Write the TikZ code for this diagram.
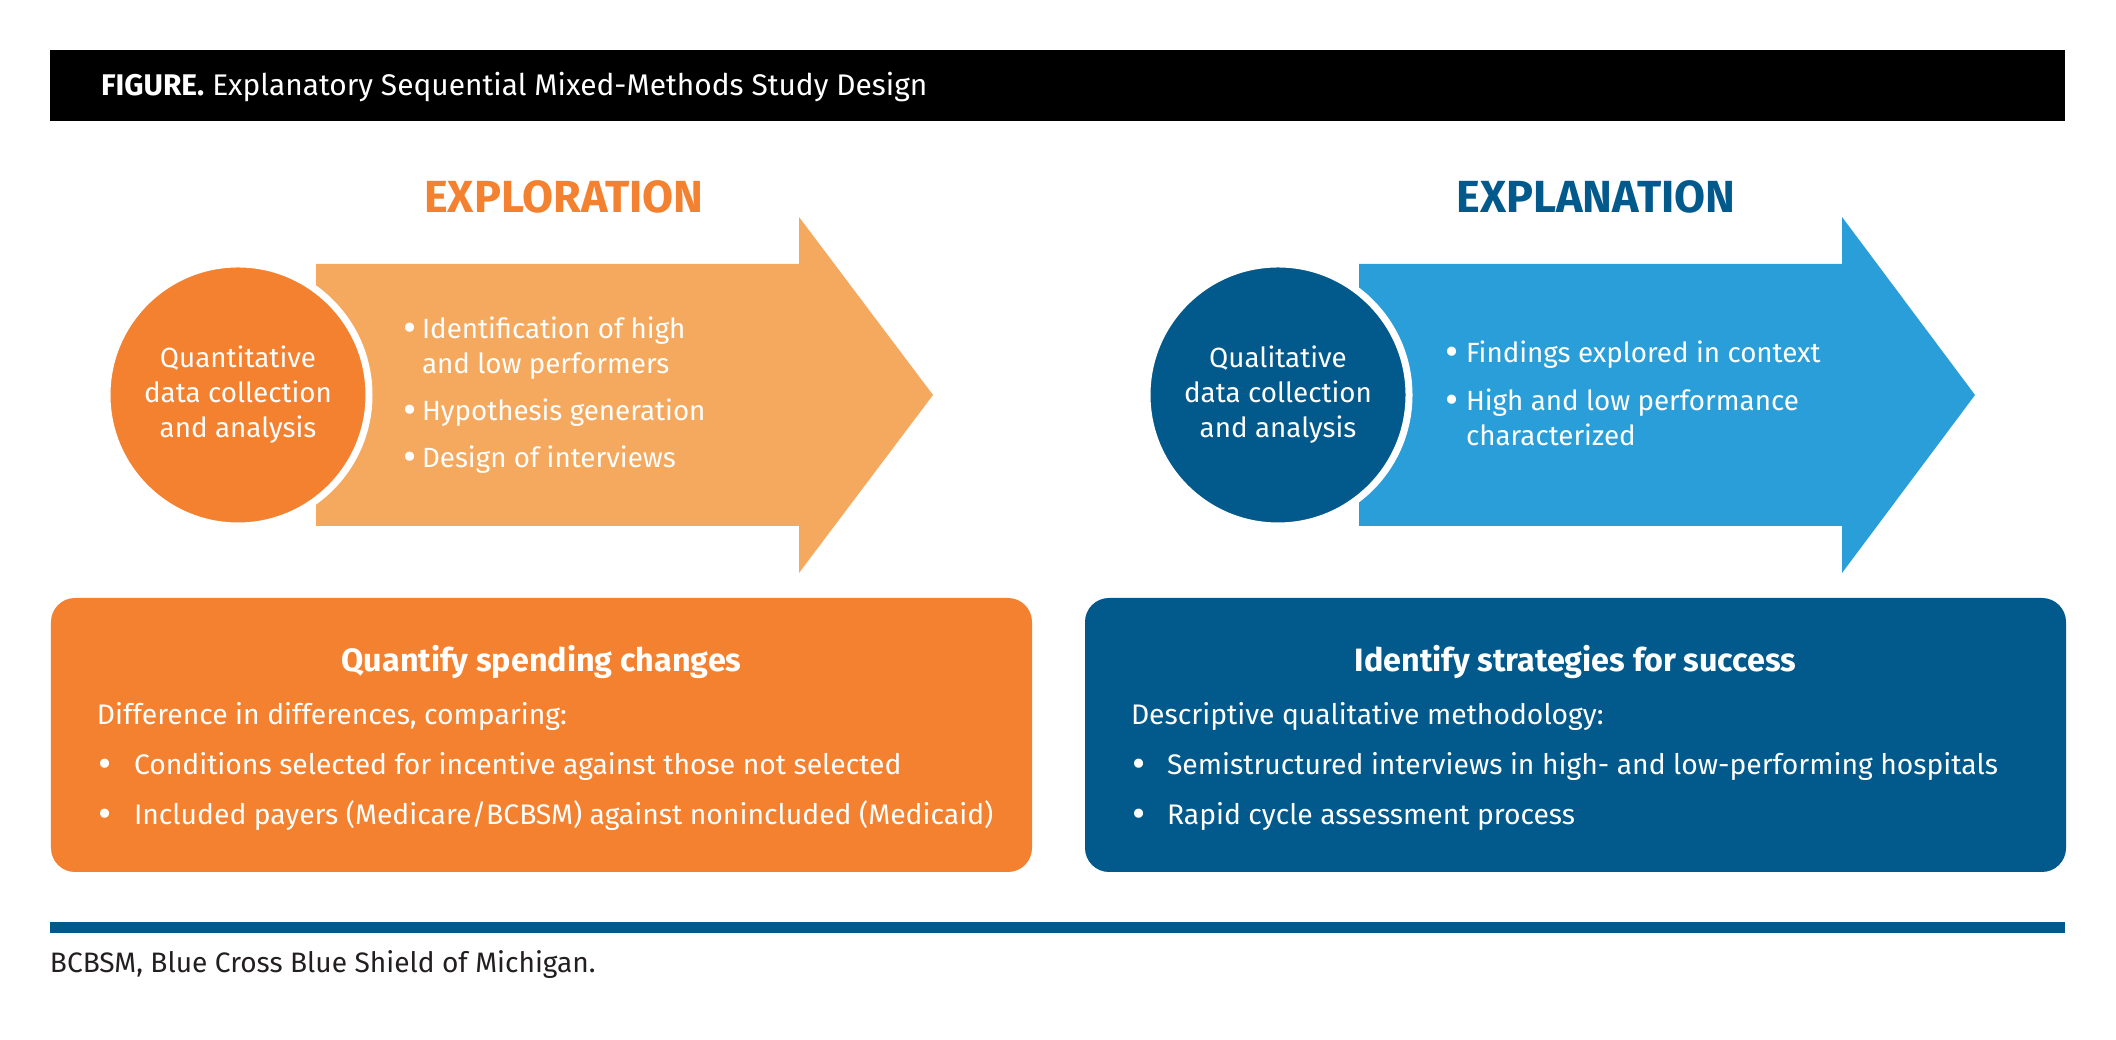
\documentclass[tikz,border=0pt]{standalone}
\usepackage{fontspec}
\setmainfont{Fira Sans}
\usepackage{tikz}
\usetikzlibrary{positioning,calc}
\definecolor{orangedark}{HTML}{F3812F}
\definecolor{orangelight}{HTML}{F4A95F}
\definecolor{bluedark}{HTML}{01598C}
\definecolor{bluelight}{HTML}{2A9ED9}
\definecolor{ink}{HTML}{231F20}
\tikzset{
  every node/.style={inner sep=0pt,outer sep=0pt},
  bar/.style={minimum width=201.5mm,inner sep=0pt},
  phase/.style={anchor=base,font=\fontsize{12.8}{14}\selectfont\bfseries},
  stage/.style={circle,minimum size=26.2mm,draw=white,line width=0.7mm,text=white,align=center,font=\fontsize{7.9}{9.96}\selectfont},
  arrowtext/.style={anchor=base west,text=white,font=\fontsize{7.9}{9.96}\selectfont},
  panel/.style={rounded corners=2.4mm,minimum width=98.1mm,minimum height=27.4mm},
  panelhead/.style={anchor=base,text=white,font=\fontsize{9.2}{11}\selectfont\bfseries},
  paneltext/.style={anchor=base west,text=white,font=\fontsize{8.05}{14.2}\selectfont},
}
\newcommand{\bigdot}{\raisebox{-0.7pt}{\fontsize{11.5}{10}\selectfont\textbullet}}

\begin{document}
\begin{tikzpicture}[x=1cm,y=1cm]
  \useasboundingbox (0,0) rectangle (21.16,10.40);
  \fill[white] (0,0) rectangle (21.16,10.40);

  % title bar
  \node[bar,fill=black,minimum height=7.1mm] (header) at (10.575,9.545) {};
  \node[anchor=base west,text=white,font=\fontsize{8.5}{10}\selectfont] (caption) at (1.01,9.44)
    {\textbf{FIGURE.} Explanatory Sequential Mixed-Methods Study Design};

  % exploration
  \node[phase,text=orangedark] (exploration) at (5.64,8.27) {EXPLORATION};
  \fill[orangelight] (3.16,7.76) -- (7.99,7.76) -- (7.99,8.23) -- (9.33,6.45)
    -- (7.99,4.67) -- (7.99,5.14) -- (3.16,5.14) -- cycle;
  \node[stage,fill=orangedark] (quant) at (2.38,6.45) {Quantitative\\data collection\\and analysis};
  \node[arrowtext] (explore) at (4.03,7.01) {%
    \begin{tabular}[t]{@{}p{1.9mm}@{}l@{}}
      \bigdot & Identification of high\\
              & and low performers\\[1.2mm]
      \bigdot & Hypothesis generation\\[1.2mm]
      \bigdot & Design of interviews
    \end{tabular}};

  % explanation
  \node[phase,text=bluedark] (explanation) at (15.96,8.27) {EXPLANATION};
  \fill[bluelight] (13.59,7.76) -- (18.42,7.76) -- (18.42,8.23) -- (19.75,6.45)
    -- (18.42,4.67) -- (18.42,5.14) -- (13.59,5.14) -- cycle;
  \node[stage,fill=bluedark] (qual) at (12.78,6.45) {Qualitative\\data collection\\and analysis};
  \node[arrowtext] (explain) at (14.45,6.77) {%
    \begin{tabular}[t]{@{}p{2.1mm}@{}l@{}}
      \bigdot & Findings explored in context\\[1.3mm]
      \bigdot & High and low performance\\
              & characterized
    \end{tabular}};

  % bottom panels
  \node[panel,fill=orangedark] (spend) at (5.415,3.05) {};
  \node[panelhead] (spendhead) at (5.415,3.68) {Quantify spending changes};
  \node[paneltext] (spendsub) at (0.97,3.15) {Difference in differences, comparing:};
  \node[paneltext] (spendlist) at (0.98,2.65) {%
    \begin{tabular}[t]{@{}p{3.6mm}@{}l@{}}
      \bigdot & Conditions selected for incentive against those not selected\\
      \bigdot & Included payers (Medicare/BCBSM) against nonincluded (Medicaid)
    \end{tabular}};

  \node[panel,fill=bluedark] (success) at (15.755,3.05) {};
  \node[panelhead] (successhead) at (15.755,3.68) {Identify strategies for success};
  \node[paneltext] (successsub) at (11.31,3.15) {Descriptive qualitative methodology:};
  \node[paneltext] (successlist) at (11.32,2.65) {%
    \begin{tabular}[t]{@{}p{3.5mm}@{}l@{}}
      \bigdot & Semistructured interviews in high- and low-performing hospitals\\
      \bigdot & Rapid cycle assessment process
    \end{tabular}};

  % footer
  \node[bar,fill=bluedark,minimum height=1.05mm] (rule) at (10.575,1.125) {};
  \node[anchor=base west,text=ink,font=\fontsize{8}{10}\selectfont] (footnote) at (0.50,0.67)
    {BCBSM, Blue Cross Blue Shield of Michigan.};
\end{tikzpicture}
\end{document}
